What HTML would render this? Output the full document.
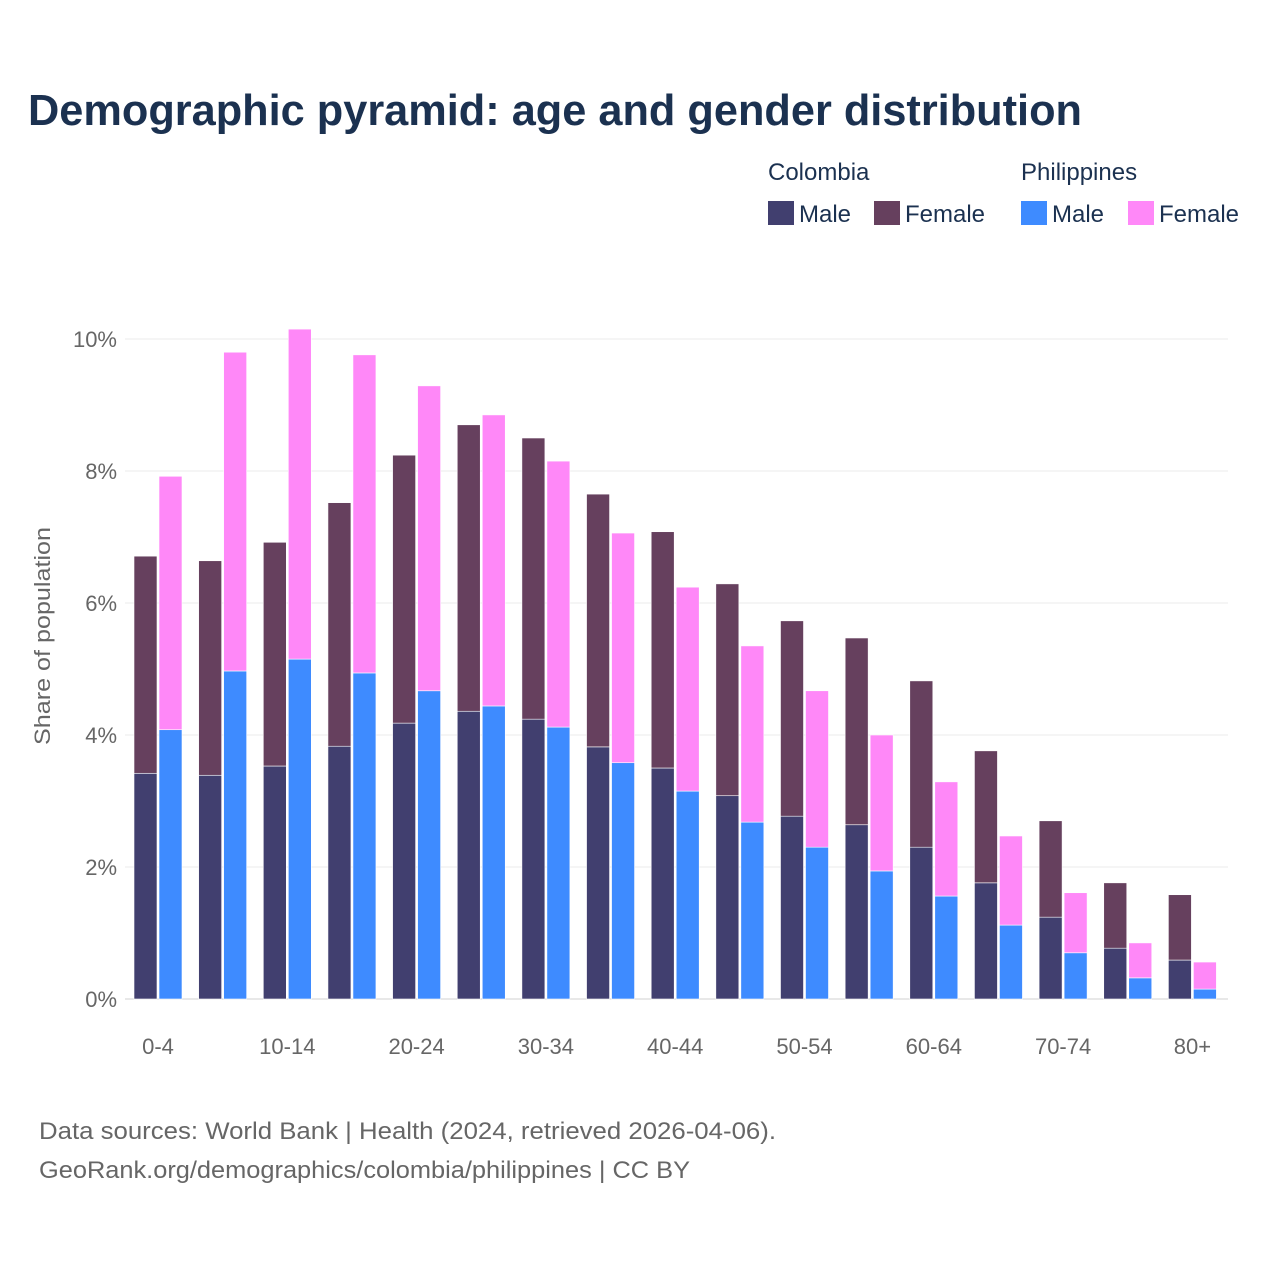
<!DOCTYPE html>
<html><head><meta charset="utf-8">
<style>
html,body{margin:0;padding:0;background:#fff;width:1280px;height:1280px;overflow:hidden;font-family:"Liberation Sans",sans-serif;}
</style></head>
<body>
<svg id="chart" width="1280" height="1280" xmlns="http://www.w3.org/2000/svg" font-family="Liberation Sans, sans-serif">
<rect width="1280" height="1280" fill="#fff"/>
<text x="28" y="125" font-size="44" font-weight="bold" fill="#1b3150" textLength="1054" lengthAdjust="spacingAndGlyphs">Demographic pyramid: age and gender distribution</text>
<g font-size="24" fill="#1b3150">
<text x="768" y="180">Colombia</text>
<text x="1021" y="180">Philippines</text>
<g><rect x="768" y="201" width="26" height="24" fill="#413f6f"/><text x="799" y="222">Male</text></g>
<g><rect x="874" y="201" width="26" height="24" fill="#66405e"/><text x="905" y="222">Female</text></g>
<g><rect x="1021" y="201" width="26" height="24" fill="#3e8bff"/><text x="1052" y="222">Male</text></g>
<g><rect x="1128" y="201" width="26" height="24" fill="#ff88f8"/><text x="1159" y="222">Female</text></g>
</g>
<text transform="translate(50,636) rotate(-90)" text-anchor="middle" font-size="22" fill="#666" textLength="218" lengthAdjust="spacingAndGlyphs">Share of population</text>
<g id="grid"></g>
<g id="bars"></g>
<g id="xlabels"></g>
<text x="39" y="1139" font-size="24" fill="#666" textLength="737" lengthAdjust="spacingAndGlyphs">Data sources: World Bank | Health (2024, retrieved 2026-04-06).</text>
<text x="39" y="1178" font-size="24" fill="#666" textLength="651" lengthAdjust="spacingAndGlyphs">GeoRank.org/demographics/colombia/philippines | CC BY</text>
</svg>
<script>
const categories=["0-4","5-9","10-14","15-19","20-24","25-29","30-34","35-39","40-44","45-49","50-54","55-59","60-64","65-69","70-74","75-79","80+"];
const colMale=[3.42,3.39,3.53,3.83,4.18,4.36,4.24,3.82,3.50,3.08,2.77,2.64,2.30,1.76,1.24,0.77,0.59];
const colFemale=[3.29,3.25,3.39,3.69,4.06,4.34,4.26,3.83,3.58,3.21,2.96,2.83,2.52,2.00,1.46,0.99,0.99];
const phMale=[4.08,4.97,5.15,4.94,4.67,4.44,4.12,3.58,3.15,2.68,2.30,1.94,1.56,1.12,0.70,0.32,0.15];
const phFemale=[3.84,4.83,5.00,4.82,4.62,4.41,4.03,3.48,3.09,2.67,2.37,2.06,1.73,1.35,0.91,0.53,0.41];
const yTicks=[0,2,4,6,8,10];
const NS="http://www.w3.org/2000/svg";
const y0=999, pxPer=66, left=125, step=64.65, barW=23;
function yS(v){return y0-v*pxPer;}
function xS(i){return left+i*step;}
function mk(tag,attrs,parent){const e=document.createElementNS(NS,tag);for(const k in attrs)e.setAttribute(k,attrs[k]);parent.appendChild(e);return e;}
const grid=document.getElementById('grid');
yTicks.forEach(t=>{
  const l=mk('line',{x1:125,x2:1228,y1:yS(t),y2:yS(t),stroke:t===0?'#d0d0d0':'#ebebeb','stroke-width':1},grid);
  
  
  const tx=mk('text',{x:117,y:yS(t)+8,'text-anchor':'end','font-size':22,fill:'#666'},grid);
  tx.textContent=t+'%';
  
  
});
const bars=document.getElementById('bars');
function bar(x,v0,v1,color,name){
  const r=mk('rect',{x:x,y:yS(v1),width:barW,height:yS(v0)-yS(v1),fill:color,stroke:'#fff','stroke-width':0.6},bars);
  
  
}
const xl=document.getElementById('xlabels');
categories.forEach((c,i)=>{
  const gx=xS(i)+9;
  bar(gx,0,colMale[i],'#413f6f','bar-colombia-male-'+c);
  bar(gx,colMale[i],colMale[i]+colFemale[i],'#66405e','bar-colombia-female-'+c);
  bar(gx+25,0,phMale[i],'#3e8bff','bar-philippines-male-'+c);
  bar(gx+25,phMale[i],phMale[i]+phFemale[i],'#ff88f8','bar-philippines-female-'+c);
  if(i%2===0){
    const t=mk('text',{x:gx+24,y:1054,'text-anchor':'middle','font-size':22,fill:'#666'},xl);
    t.textContent=c;
    
    
  }
});
</script>
</body></html>
